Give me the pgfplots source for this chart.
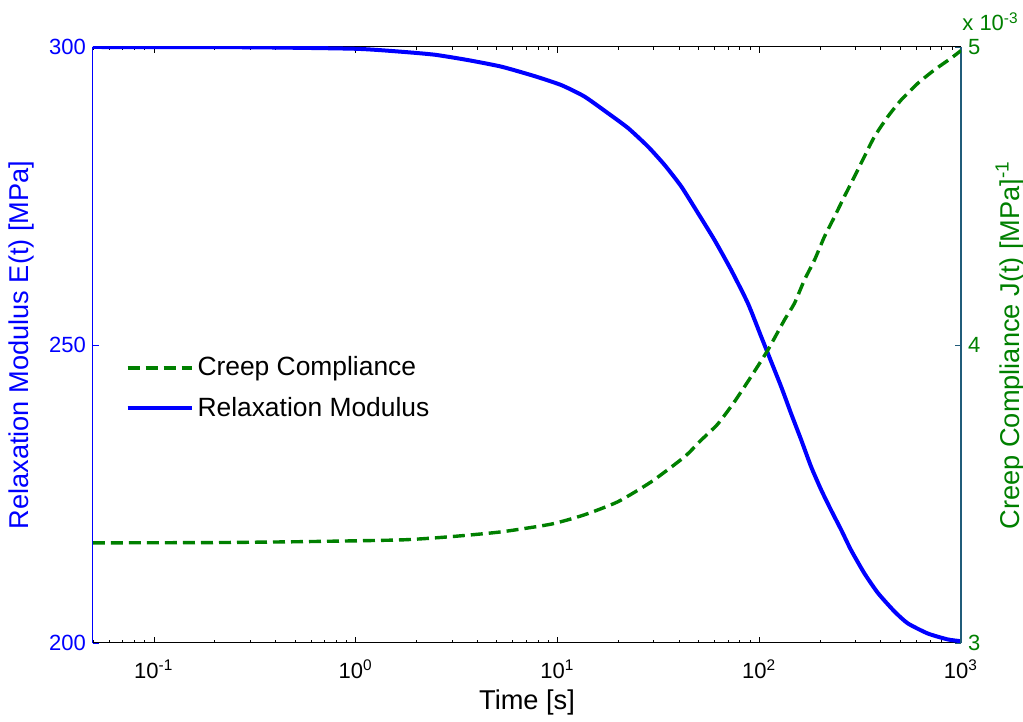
\documentclass[border=0pt]{standalone}
\usepackage{fontspec}
\setmainfont{Liberation Sans}
\usepackage{pgfplots}
\pgfplotsset{compat=1.18}
\usetikzlibrary{calc}
\definecolor{mblue}{RGB}{0,0,255}
\definecolor{mgreen}{RGB}{0,128,0}
\definecolor{mteal}{RGB}{32,92,122}

\begin{document}
\begin{tikzpicture}
\pgfplotsset{every axis/.append style={
  width=434pt, height=298pt, scale only axis,
  xmode=log, xmin=0.05, xmax=1000,
  tick align=inside, major tick length=3pt, minor tick length=1.7pt,
  /pgf/number format/assume math mode=true,
  tick label style={font=\fontsize{11}{12}\selectfont},
  label style={font=\fontsize{13.6}{15}\selectfont},
}}
\begin{axis}[name=ax,
  axis x line*=box, axis y line*=left,
  x axis line style={black, line width=0.5pt},
  y axis line style={mblue, line width=0.5pt},
  ymin=200, ymax=300, ytick={200,250,300},
  ytick style={mblue},
  xtick style={black},
  xtick={0.1,1,10,100,1000},
  xticklabels={10\textsuperscript{-1},10\textsuperscript{0},10\textsuperscript{1},10\textsuperscript{2},10\textsuperscript{3}},
  xticklabel style={yshift=-5pt},
  minor xtick={0.05,0.06,0.07,0.08,0.09,0.2,0.3,0.4,0.5,0.6,0.7,0.8,0.9,2,3,4,5,6,7,8,9,20,30,40,50,60,70,80,90,200,300,400,500,600,700,800,900},
  yticklabel style={text=mblue},
  xlabel={Time [s]},
  xlabel style={at={(axis description cs:0.5,-0.1)}, anchor=center},
  ylabel={Relaxation Modulus E(t) [MPa]},
  ylabel style={text=mblue, at={(axis description cs:-0.082,0.5)}, anchor=center},
  legend style={draw=none, fill=none, inner sep=0pt, row sep=5pt,
    at={(axis description cs:0.037,0.428)}, anchor=west,
    font=\fontsize{13.2}{15}\selectfont},
  legend cell align=left,
  legend image code/.code={\draw[#1] (0pt,0pt) -- (32pt,0pt);},
]
\addlegendimage{mgreen, line width=1.7pt, dash pattern=on 6pt off 3pt}
\addlegendentry{Creep Compliance}
\addplot[mblue, line width=2pt, smooth, tension=0.35] coordinates {
(0.05,300.0) (0.3,299.95) (1,299.7) (1.69,299.2) (2.47,298.7) (3.61,297.8)
(5.28,296.7) (7.73,295.1) (10.47,293.6) (13.6,291.7) (17.8,288.9) (22.4,286.4)
(28.1,283.3) (34.0,280.2) (41.1,276.6) (49.8,272.1) (60.1,267.6) (72.6,262.6)
(87.9,257.0) (102.3,251.4) (110.4,248.6) (128.5,243.0) (143.9,238.5) (161.4,234.1)
(180.7,229.6) (202.8,225.7) (227.0,222.3) (254.7,219.0) (285.1,215.6) (331.9,211.7)
(387.3,208.4) (467.7,205.3) (544.5,203.3) (683.9,201.6) (859.0,200.6) (1000,200.3)};
\addlegendentry{Relaxation Modulus}
\end{axis}
\begin{axis}[
  axis x line=none, axis y line*=right,
  y axis line style={mteal, line width=0.8pt},
  ymin=3, ymax=5, ytick={3,4,5},
  ytick style={mteal},
  yticklabel style={text=mgreen},
  ylabel={Creep Compliance J(t) [MPa]\textsuperscript{-1}},
  ylabel style={text=mgreen, at={(axis description cs:1.0565,0.5)}, anchor=center, rotate=0},
]
\addplot[mgreen, line width=1.7pt, dash pattern=on 6pt off 3pt, smooth, tension=0.35] coordinates {
(0.05,3.336) (0.2,3.337) (0.54,3.340) (1.69,3.346) (2.99,3.357) (5.28,3.373)
(9.33,3.399) (13.6,3.430) (19.95,3.474) (29.2,3.541) (42.7,3.625) (51.6,3.681)
(62.4,3.735) (75.5,3.810) (91.2,3.894) (110.4,3.983) (133.4,4.084) (149.6,4.140)
(167.5,4.218) (187.9,4.285) (210.4,4.363) (236.0,4.430) (264.2,4.498) (296.5,4.565)
(331.9,4.632) (372.4,4.699) (433.5,4.766) (504.7,4.822) (610.9,4.878) (738.0,4.923)
(891.3,4.962) (1000,4.988)};
\end{axis}
\node[anchor=base west, text=mgreen, font=\fontsize{11}{12}\selectfont, inner sep=0pt]
  at ($(ax.north east)+(0.5pt,8pt)$) {x 10\textsuperscript{-3}};
\pgfresetboundingbox
\path ($(ax.south west)+(-46.5pt,-39.5pt)$) rectangle ($(ax.north east)+(31pt,23.5pt)$);
\end{tikzpicture}
\end{document}
